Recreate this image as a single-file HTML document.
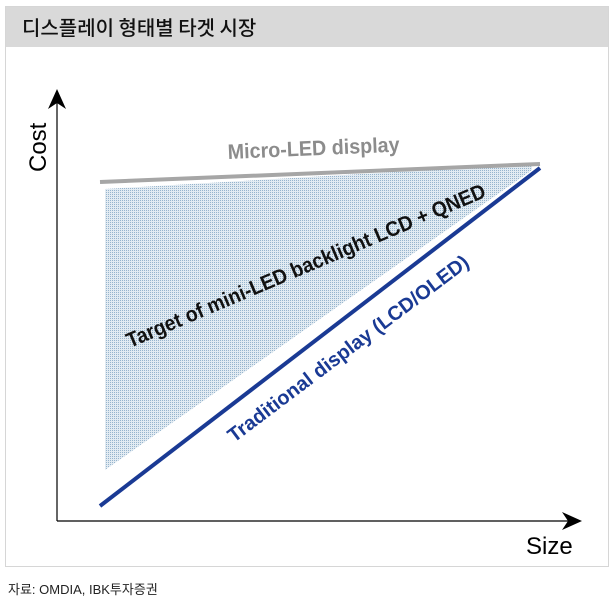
<!DOCTYPE html>
<html><head><meta charset="utf-8"><style>
body{margin:0;background:#fff;width:615px;height:600px;overflow:hidden;font-family:"Liberation Sans","Noto Sans CJK KR",sans-serif}
</style></head><body>
<svg width="615" height="600" xmlns="http://www.w3.org/2000/svg">
<defs>
<pattern id="dots" width="2" height="2" patternUnits="userSpaceOnUse">
<rect width="2" height="2" fill="#e2ebf2"/>
<rect width="1" height="1" fill="#96b4cd"/>
</pattern>
</defs>
<rect x="5.5" y="6.5" width="603" height="560" fill="#fff" stroke="#d6d6d6"/>
<rect x="6" y="7" width="602" height="40" fill="#d9d9d9"/>
<text x="22" y="35" font-size="20" fill="#111" font-family="'Noto Sans CJK KR',sans-serif" font-weight="500">디스플레이 형태별 타겟 시장</text>
<polygon points="105,189 105,470 532,170 532,164" fill="url(#dots)"/>
<line x1="100" y1="182" x2="540" y2="164" stroke="#a6a6a6" stroke-width="4"/>
<line x1="100" y1="506" x2="540" y2="168" stroke="#1a3a94" stroke-width="4"/>
<line x1="57" y1="521" x2="57" y2="100" stroke="#000" stroke-width="1.2"/>
<polygon points="57,89 48,109 57,103 66,109" fill="#000"/>
<line x1="57" y1="521" x2="570" y2="521" stroke="#000" stroke-width="1.2"/>
<polygon points="582,521 562,512 568,521 562,530" fill="#000"/>
<text transform="translate(46,172) rotate(-90)" font-size="24" fill="#000">Cost</text>
<text x="526" y="554" font-size="24" fill="#000">Size</text>
<text transform="translate(228,159) rotate(-2.5)" font-size="21" font-weight="bold" fill="#8c8c8c" textLength="172" lengthAdjust="spacingAndGlyphs">Micro-LED display</text>
<text transform="translate(130,348) rotate(-23)" font-size="21" font-weight="bold" fill="#111" textLength="388" lengthAdjust="spacingAndGlyphs">Target of mini-LED backlight LCD + QNED</text>
<text transform="translate(234,443) rotate(-37)" font-size="20" font-weight="bold" fill="#1a3a94" textLength="296" lengthAdjust="spacingAndGlyphs">Traditional display (LCD/OLED)</text>
<text x="8" y="594" font-size="13" fill="#222">자료: OMDIA, IBK투자증권</text>
</svg>
</body></html>
